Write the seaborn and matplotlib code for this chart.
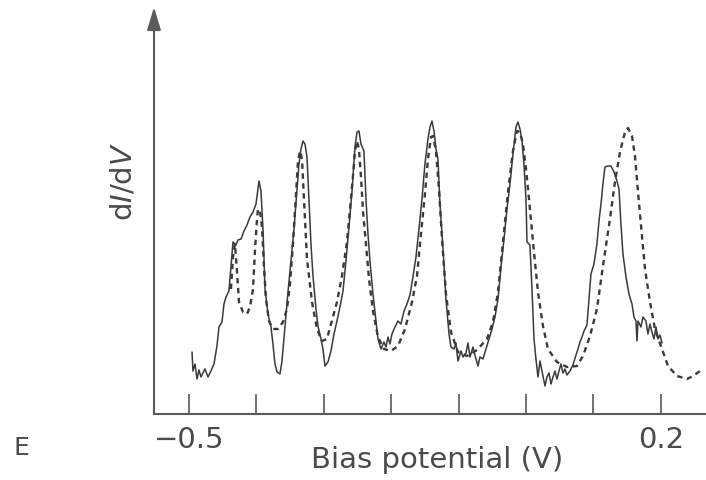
import matplotlib
matplotlib.use("Agg")
import matplotlib.pyplot as plt
import seaborn as sns

# ---------------- data ----------------
bias_measured = [
    -0.4955, -0.4941, -0.4911, -0.4881, -0.4852, -0.4822, -0.4792, -0.4763, -0.4718, -0.4674,
    -0.4629, -0.4585, -0.4555, -0.4510, -0.4481, -0.4451, -0.4407, -0.4377, -0.4347, -0.4303,
    -0.4273, -0.4228, -0.4184, -0.4139, -0.4095, -0.4050, -0.4006, -0.3976, -0.3961, -0.3932,
    -0.3902, -0.3872, -0.3828, -0.3783, -0.3754, -0.3724, -0.3694, -0.3650, -0.3620, -0.3576,
    -0.3531, -0.3487, -0.3442, -0.3398, -0.3368, -0.3338, -0.3309, -0.3279, -0.3249, -0.3220,
    -0.3190, -0.3160, -0.3116, -0.3086, -0.3042, -0.3012, -0.2982, -0.2938, -0.2893, -0.2849,
    -0.2804, -0.2760, -0.2715, -0.2671, -0.2626, -0.2582, -0.2537, -0.2507, -0.2478, -0.2448,
    -0.2404, -0.2374, -0.2344, -0.2315, -0.2270, -0.2226, -0.2196, -0.2151, -0.2107, -0.2077,
    -0.2047, -0.2018, -0.1988, -0.1944, -0.1899, -0.1855, -0.1810, -0.1766, -0.1721, -0.1677,
    -0.1632, -0.1588, -0.1543, -0.1499, -0.1454, -0.1424, -0.1395, -0.1365, -0.1335, -0.1306,
    -0.1276, -0.1231, -0.1187, -0.1142, -0.1113, -0.1068, -0.1039, -0.1009, -0.0964, -0.0935,
    -0.0890, -0.0861, -0.0831, -0.0786, -0.0757, -0.0712, -0.0683, -0.0638, -0.0593, -0.0549,
    -0.0504, -0.0460, -0.0415, -0.0371, -0.0326, -0.0282, -0.0237, -0.0193, -0.0148, -0.0119,
    -0.0089, -0.0059, -0.0030, 0.0000, 0.0015, 0.0059, 0.0089, 0.0119, 0.0148, 0.0178,
    0.0208, 0.0237, 0.0282, 0.0312, 0.0341, 0.0371, 0.0401, 0.0430, 0.0460, 0.0490,
    0.0519, 0.0549, 0.0579, 0.0608, 0.0653, 0.0697, 0.0742, 0.0772, 0.0801, 0.0831,
    0.0861, 0.0905, 0.0935, 0.0964, 0.1009, 0.1053, 0.1083, 0.1113, 0.1142, 0.1172,
    0.1217, 0.1261, 0.1306, 0.1350, 0.1380, 0.1409, 0.1439, 0.1484, 0.1528, 0.1573,
    0.1602, 0.1632, 0.1647, 0.1662, 0.1706, 0.1736, 0.1780, 0.1810, 0.1840, 0.1869,
    0.1899, 0.1929, 0.1958, 0.1988, 0.2018,
]
didv_measured = [
    62, 43, 50, 35, 44, 37, 41, 45, 37, 43,
    50, 68, 87, 92, 110, 117, 123, 147, 172, 169,
    174, 175, 183, 189, 197, 202, 210, 225, 233, 223,
    185, 125, 100, 87, 70, 50, 42, 40, 53, 87,
    122, 153, 185, 223, 250, 265, 273, 270, 257, 215,
    170, 138, 105, 88, 75, 65, 48, 52, 63, 80,
    93, 107, 123, 153, 187, 222, 267, 282, 283, 270,
    263, 215, 180, 153, 120, 93, 75, 65, 72, 67,
    77, 70, 80, 87, 93, 90, 103, 110, 119, 137,
    157, 185, 215, 250, 275, 287, 293, 283, 265, 255,
    210, 165, 115, 80, 67, 65, 71, 53, 63, 57,
    61, 71, 57, 67, 59, 48, 57, 55, 65, 75,
    85, 97, 115, 147, 175, 205, 230, 260, 287, 292,
    285, 273, 250, 215, 172, 169, 125, 75, 55, 37,
    53, 43, 28, 37, 41, 30, 37, 43, 35, 43,
    50, 41, 45, 39, 43, 49, 59, 65, 72, 77,
    83, 89, 115, 140, 150, 170, 193, 210, 230, 247,
    248, 248, 242, 233, 225, 190, 160, 137, 120, 110,
    97, 93, 73, 93, 87, 97, 93, 80, 90, 82,
    75, 87, 75, 79, 71,
]

bias_fit = [
    -0.4377, -0.4347, -0.4318, -0.4288, -0.4258, -0.4199, -0.4139, -0.4095, -0.4050, -0.4021,
    -0.3991, -0.3976, -0.3947, -0.3917, -0.3887, -0.3858, -0.3813, -0.3754, -0.3680, -0.3605,
    -0.3546, -0.3501, -0.3457, -0.3412, -0.3383, -0.3353, -0.3323, -0.3294, -0.3249, -0.3175,
    -0.3101, -0.3027, -0.2953, -0.2893, -0.2804, -0.2730, -0.2656, -0.2611, -0.2567, -0.2537,
    -0.2507, -0.2478, -0.2448, -0.2418, -0.2374, -0.2329, -0.2270, -0.2196, -0.2107, -0.2003,
    -0.1899, -0.1795, -0.1691, -0.1617, -0.1573, -0.1499, -0.1454, -0.1409, -0.1380, -0.1335,
    -0.1291, -0.1246, -0.1187, -0.1113, -0.1009, -0.0875, -0.0727, -0.0579, -0.0490, -0.0415,
    -0.0341, -0.0267, -0.0193, -0.0134, -0.0089, -0.0045, 0.0000, 0.0045, 0.0104, 0.0178,
    0.0252, 0.0326, 0.0460, 0.0608, 0.0757, 0.0846, 0.0950, 0.1053, 0.1142, 0.1246,
    0.1320, 0.1395, 0.1469, 0.1513, 0.1573, 0.1617, 0.1662, 0.1721, 0.1766, 0.1840,
    0.1914, 0.2018, 0.2107, 0.2240, 0.2389, 0.2478, 0.2582,
]
didv_fit = [
    125, 157, 170, 143, 112, 102, 100, 107, 125, 163,
    195, 205, 203, 187, 147, 115, 93, 85, 85, 92,
    105, 130, 170, 220, 253, 263, 255, 215, 155, 112,
    85, 73, 75, 90, 112, 138, 172, 205, 238, 263,
    273, 265, 237, 203, 170, 135, 103, 77, 65, 63,
    68, 85, 112, 138, 170, 220, 255, 277, 278, 263,
    225, 175, 120, 82, 62, 58, 64, 75, 92, 122,
    172, 222, 263, 283, 282, 270, 245, 215, 172, 122,
    88, 65, 52, 47, 48, 58, 78, 105, 148, 195,
    232, 262, 282, 286, 278, 258, 222, 178, 145, 112,
    85, 65, 48, 38, 35, 38, 43,
]

x_ticks = [-0.5, -0.4, -0.3, -0.2, -0.1, 0.0, 0.1, 0.2]
x_tick_labels = ["\u22120.5", "", "", "", "", "", "", "0.2"]
x_label = "Bias potential (V)"
y_label = r"d$\mathit{I}$/d$\mathit{V}$"
panel_label = "E"

# ---------------- styling ----------------
sns.set_theme(style="white")
plt.rcParams["font.family"] = ["DejaVu Sans"]
plt.rcParams["mathtext.fontset"] = "dejavusans"

INK = "#3a3a3a"
AXC = "#5a5a5a"
TXT = "#4a4a4a"

fig = plt.figure(figsize=(7.06, 4.81), dpi=100)
fig.patch.set_facecolor("white")
ax = fig.add_axes([154 / 706, 66 / 481, 552 / 706, 407 / 481])
ax.set_facecolor("white")

sns.lineplot(x=bias_measured, y=didv_measured, ax=ax, color=INK, lw=1.1,
             estimator=None, sort=False)
sns.lineplot(x=bias_fit, y=didv_fit, ax=ax, color=INK, lw=1.7,
             linestyle=(0, (2.3, 1.9)), estimator=None, sort=False)

ax.set_xlim(-0.5519, 0.2671)
ax.set_ylim(0, 407)

for s in ("top", "right", "left"):
    ax.spines[s].set_visible(False)
ax.spines["bottom"].set_color(AXC)
ax.spines["bottom"].set_linewidth(1.5)

# y axis drawn as an arrow
ax.annotate("", xy=(0, 1.0), xytext=(0, 0), xycoords="axes fraction",
            textcoords="axes fraction",
            arrowprops=dict(arrowstyle="-|>,head_length=1.0,head_width=0.3",
                            mutation_scale=14, color=AXC, lw=1.5,
                            shrinkA=0, shrinkB=0),
            annotation_clip=False)

ax.set_xticks(x_ticks)
ax.set_xticklabels(x_tick_labels)
ax.tick_params(axis="x", direction="in", length=14.5, width=1.2, color=AXC,
               labelsize=21, labelcolor=TXT, pad=8.0, bottom=True)
ax.set_yticks([])
ax.set_xlabel("")
ax.set_ylabel("")

ax.text((437 - 154) / 552, (415 - 468) / 407, x_label, transform=ax.transAxes,
        ha="center", va="baseline", fontsize=21, color=TXT)
ax.text((123 - 154) / 552, (415 - 181) / 407, y_label, transform=ax.transAxes,
        ha="center", va="center", rotation=90, fontsize=21, color=TXT)
fig.text(21 / 706, 1 - 448 / 481, panel_label, ha="center", va="center",
         fontsize=18, color=TXT)

fig.savefig("out.png", dpi=100, facecolor="white")
